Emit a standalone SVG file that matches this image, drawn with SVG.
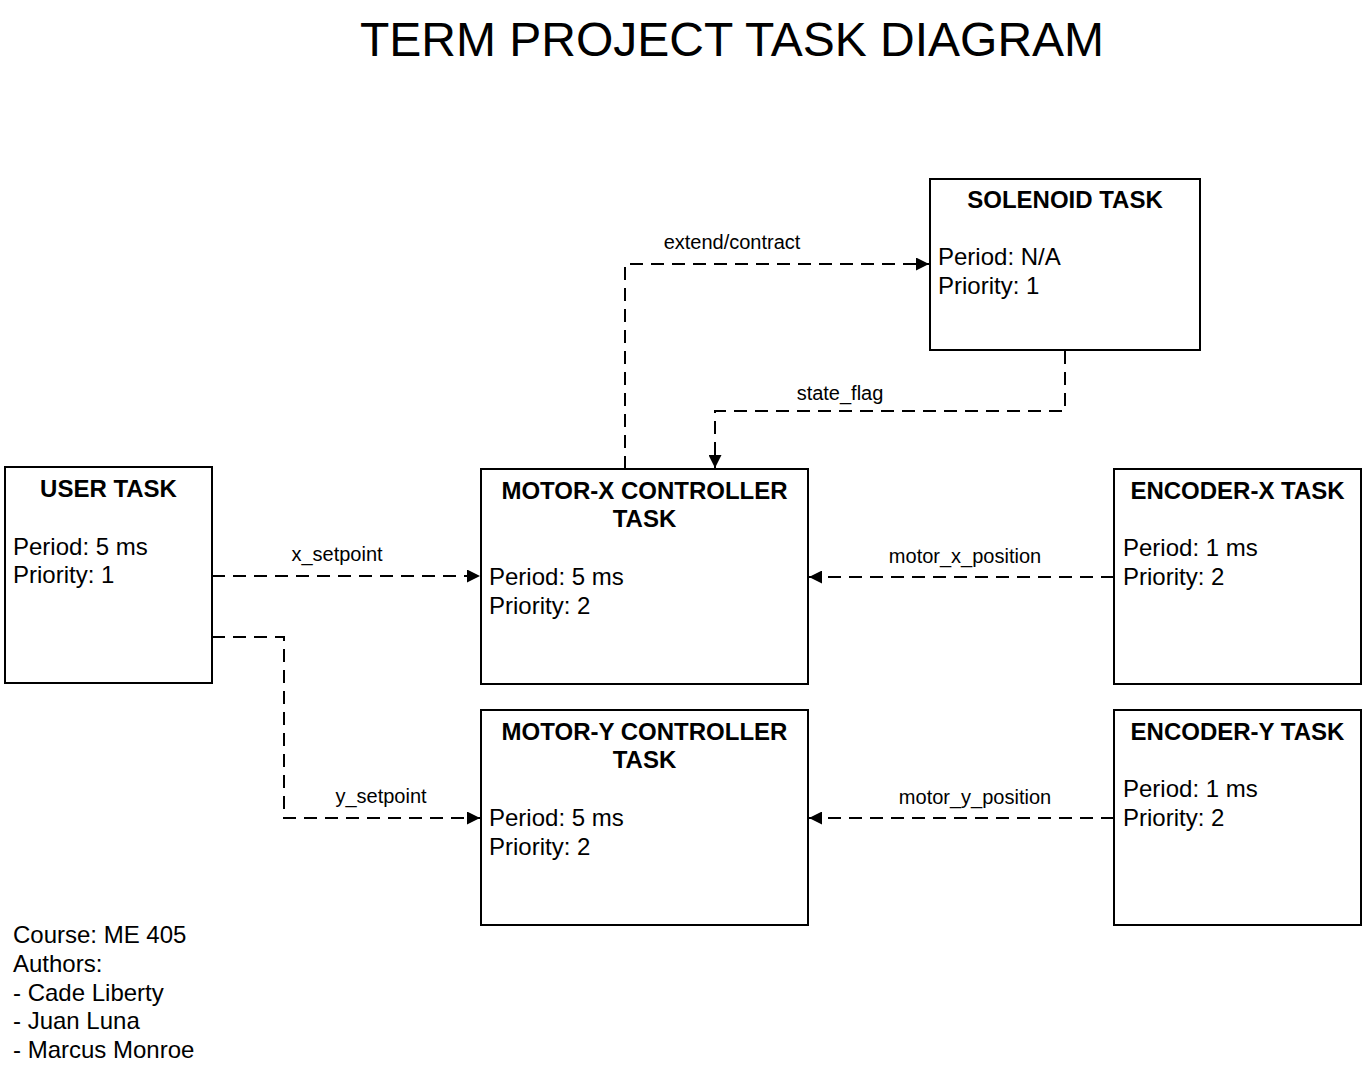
<svg xmlns="http://www.w3.org/2000/svg" width="1363" height="1076" viewBox="0 0 1363 1076">
<defs>
<marker id="arr" markerWidth="13" markerHeight="13" refX="13" refY="6.5" orient="auto" markerUnits="userSpaceOnUse">
<path d="M0,0 L13,6.5 L0,13 Z" fill="#000"/>
</marker>
<style>
.box{fill:#fff;stroke:#000;stroke-width:2}
.t{font-family:"Liberation Sans",Arial,sans-serif;font-size:24px;fill:#000}
.h{font-family:"Liberation Sans",Arial,sans-serif;font-size:24px;font-weight:bold;fill:#000;text-anchor:middle}
.c{fill:none;stroke:#000;stroke-width:2;stroke-dasharray:13 8;marker-end:url(#arr)}
.l{font-family:"Liberation Sans",Arial,sans-serif;font-size:20px;fill:#000;text-anchor:middle}
</style>
</defs>
<rect width="1363" height="1076" fill="#fff"/>
<text x="732" y="56" font-family="Liberation Sans, Arial, sans-serif" font-size="48" text-anchor="middle">TERM PROJECT TASK DIAGRAM</text>

<g id="connectors">
<path class="c" d="M212,576 H480"/>
<text class="l" x="337" y="561">x_setpoint</text>
<path class="c" d="M212,637 H284 V818 H480"/>
<text class="l" x="381" y="803">y_setpoint</text>
<path class="c" d="M625,469 V264 H929"/>
<text class="l" x="732" y="249">extend/contract</text>
<path class="c" d="M1065,351 V411 H715 V468"/>
<text class="l" x="840" y="400">state_flag</text>
<path class="c" d="M1114,577 H809"/>
<text class="l" x="965" y="563">motor_x_position</text>
<path class="c" d="M1114,818 H809"/>
<text class="l" x="975" y="804">motor_y_position</text>
</g>

<g id="user-task">
<rect class="box" x="5" y="467" width="207" height="216"/>
<text class="h" x="108.5" y="497">USER TASK</text>
<text class="t" x="13" y="555">Period: 5 ms</text>
<text class="t" x="13" y="583">Priority: 1</text>
</g>

<g id="motor-x">
<rect class="box" x="481" y="469" width="327" height="215"/>
<text class="h" x="644.5" y="499">MOTOR-X CONTROLLER</text>
<text class="h" x="644.5" y="527">TASK</text>
<text class="t" x="489" y="585">Period: 5 ms</text>
<text class="t" x="489" y="614">Priority: 2</text>
</g>

<g id="motor-y">
<rect class="box" x="481" y="710" width="327" height="215"/>
<text class="h" x="644.5" y="740">MOTOR-Y CONTROLLER</text>
<text class="h" x="644.5" y="768">TASK</text>
<text class="t" x="489" y="826">Period: 5 ms</text>
<text class="t" x="489" y="855">Priority: 2</text>
</g>

<g id="solenoid">
<rect class="box" x="930" y="179" width="270" height="171"/>
<text class="h" x="1065" y="208">SOLENOID TASK</text>
<text class="t" x="938" y="265">Period: N/A</text>
<text class="t" x="938" y="294">Priority: 1</text>
</g>

<g id="encoder-x">
<rect class="box" x="1114" y="469" width="247" height="215"/>
<text class="h" x="1237.5" y="499">ENCODER-X TASK</text>
<text class="t" x="1123" y="556">Period: 1 ms</text>
<text class="t" x="1123" y="585">Priority: 2</text>
</g>

<g id="encoder-y">
<rect class="box" x="1114" y="710" width="247" height="215"/>
<text class="h" x="1237.5" y="740">ENCODER-Y TASK</text>
<text class="t" x="1123" y="797">Period: 1 ms</text>
<text class="t" x="1123" y="826">Priority: 2</text>
</g>

<g id="footer">
<text class="t" x="13" y="943">Course: ME 405</text>
<text class="t" x="13" y="972">Authors:</text>
<text class="t" x="13" y="1001">- Cade Liberty</text>
<text class="t" x="13" y="1029">- Juan Luna</text>
<text class="t" x="13" y="1058">- Marcus Monroe</text>
</g>
</svg>
